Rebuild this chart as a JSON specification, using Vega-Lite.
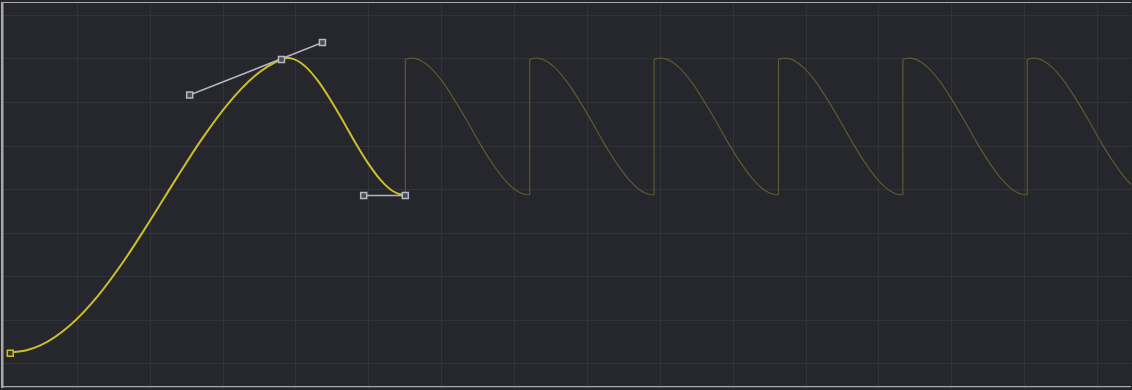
{
  "$schema": "https://vega.github.io/schema/vega-lite/v6.json",
  "width": 1132,
  "height": 390,
  "padding": 0,
  "autosize": {"type": "fit", "contains": "padding"},
  "background": "#26272c",
  "config": {"view": {"stroke": null}},
  "datasets": {
    "main": [
      {"f": 0.82, "v": 2.50}, {"f": 2.97, "v": 2.93}, {"f": 5.06, "v": 4.16}, {"f": 9.07, "v": 8.73},
      {"f": 12.89, "v": 15.48}, {"f": 16.58, "v": 23.82}, {"f": 20.16, "v": 33.07}, {"f": 23.70, "v": 42.57},
      {"f": 27.22, "v": 51.64}, {"f": 30.77, "v": 59.64}, {"f": 34.37, "v": 65.91}, {"f": 36.21, "v": 68.18},
      {"f": 38.08, "v": 69.77}, {"f": 38.93, "v": 70.07}, {"f": 39.77, "v": 69.84}, {"f": 41.45, "v": 68.00},
      {"f": 43.14, "v": 64.71}, {"f": 44.82, "v": 60.43}, {"f": 46.54, "v": 55.57}, {"f": 48.22, "v": 50.61},
      {"f": 49.93, "v": 46.00}, {"f": 51.64, "v": 42.16}, {"f": 53.34, "v": 39.55}, {"f": 54.21, "v": 38.86},
      {"f": 55.07, "v": 38.64}
    ],
    "cycles": [
      {"c": 1, "f": 55.07, "v": 69.77}, {"c": 1, "f": 55.92, "v": 70.07}, {"c": 1, "f": 56.76, "v": 69.84}, {"c": 1, "f": 58.45, "v": 68.00},
      {"c": 1, "f": 60.15, "v": 64.71}, {"c": 1, "f": 61.84, "v": 60.43}, {"c": 1, "f": 63.57, "v": 55.57}, {"c": 1, "f": 65.25, "v": 50.61},
      {"c": 1, "f": 66.97, "v": 46.00}, {"c": 1, "f": 68.69, "v": 42.16}, {"c": 1, "f": 70.40, "v": 39.55}, {"c": 1, "f": 71.27, "v": 38.86},
      {"c": 1, "f": 72.14, "v": 38.64},
      {"c": 2, "f": 72.14, "v": 69.77}, {"c": 2, "f": 72.99, "v": 70.07}, {"c": 2, "f": 73.83, "v": 69.84}, {"c": 2, "f": 75.52, "v": 68.00},
      {"c": 2, "f": 77.22, "v": 64.71}, {"c": 2, "f": 78.91, "v": 60.43}, {"c": 2, "f": 80.64, "v": 55.57}, {"c": 2, "f": 82.32, "v": 50.61},
      {"c": 2, "f": 84.04, "v": 46.00}, {"c": 2, "f": 85.76, "v": 42.16}, {"c": 2, "f": 87.47, "v": 39.55}, {"c": 2, "f": 88.34, "v": 38.86},
      {"c": 2, "f": 89.21, "v": 38.64},
      {"c": 3, "f": 89.21, "v": 69.77}, {"c": 3, "f": 90.06, "v": 70.07}, {"c": 3, "f": 90.90, "v": 69.84}, {"c": 3, "f": 92.59, "v": 68.00},
      {"c": 3, "f": 94.29, "v": 64.71}, {"c": 3, "f": 95.98, "v": 60.43}, {"c": 3, "f": 97.71, "v": 55.57}, {"c": 3, "f": 99.39, "v": 50.61},
      {"c": 3, "f": 101.11, "v": 46.00}, {"c": 3, "f": 102.83, "v": 42.16}, {"c": 3, "f": 104.54, "v": 39.55}, {"c": 3, "f": 105.41, "v": 38.86},
      {"c": 3, "f": 106.28, "v": 38.64},
      {"c": 4, "f": 106.28, "v": 69.77}, {"c": 4, "f": 107.13, "v": 70.07}, {"c": 4, "f": 107.97, "v": 69.84}, {"c": 4, "f": 109.66, "v": 68.00},
      {"c": 4, "f": 111.36, "v": 64.71}, {"c": 4, "f": 113.05, "v": 60.43}, {"c": 4, "f": 114.78, "v": 55.57}, {"c": 4, "f": 116.46, "v": 50.61},
      {"c": 4, "f": 118.18, "v": 46.00}, {"c": 4, "f": 119.90, "v": 42.16}, {"c": 4, "f": 121.61, "v": 39.55}, {"c": 4, "f": 122.48, "v": 38.86},
      {"c": 4, "f": 123.35, "v": 38.64},
      {"c": 5, "f": 123.35, "v": 69.77}, {"c": 5, "f": 124.20, "v": 70.07}, {"c": 5, "f": 125.04, "v": 69.84}, {"c": 5, "f": 126.73, "v": 68.00},
      {"c": 5, "f": 128.43, "v": 64.71}, {"c": 5, "f": 130.12, "v": 60.43}, {"c": 5, "f": 131.85, "v": 55.57}, {"c": 5, "f": 133.53, "v": 50.61},
      {"c": 5, "f": 135.25, "v": 46.00}, {"c": 5, "f": 136.97, "v": 42.16}, {"c": 5, "f": 138.68, "v": 39.55}, {"c": 5, "f": 139.55, "v": 38.86},
      {"c": 5, "f": 140.42, "v": 38.64},
      {"c": 6, "f": 140.42, "v": 69.77}, {"c": 6, "f": 141.27, "v": 70.07}, {"c": 6, "f": 142.11, "v": 69.84}, {"c": 6, "f": 143.80, "v": 68.00},
      {"c": 6, "f": 145.50, "v": 64.71}, {"c": 6, "f": 147.19, "v": 60.43}, {"c": 6, "f": 148.92, "v": 55.57}, {"c": 6, "f": 150.60, "v": 50.61},
      {"c": 6, "f": 152.32, "v": 46.00}, {"c": 6, "f": 154.04, "v": 42.16}, {"c": 6, "f": 155.75, "v": 39.55}, {"c": 6, "f": 156.62, "v": 38.86},
      {"c": 6, "f": 157.49, "v": 38.64}
    ],
    "jumps": [
      {"f": 55.07, "v": 38.64, "hi": 69.77}, {"f": 72.14, "v": 38.64, "hi": 69.77}, {"f": 89.21, "v": 38.64, "hi": 69.77},
      {"f": 106.28, "v": 38.64, "hi": 69.77}, {"f": 123.35, "v": 38.64, "hi": 69.77}, {"f": 140.42, "v": 38.64, "hi": 69.77}
    ],
    "handles": [
      {"h": "a", "f": 25.48, "v": 61.59}, {"h": "a", "f": 43.70, "v": 73.64},
      {"h": "b", "f": 49.36, "v": 38.52}, {"h": "b", "f": 55.07, "v": 38.52}
    ],
    "hpts": [
      {"f": 25.48, "v": 61.59}, {"f": 43.70, "v": 73.64}, {"f": 49.36, "v": 38.52},
      {"f": 38.08, "v": 69.77}, {"f": 55.07, "v": 38.52}
    ],
    "spt": [{"f": 0.86, "v": 2.27}],
    "vborder": [{"f": -0.24, "v": -5.682, "hi": 82.955}],
    "hborder": [
      {"f": -0.411, "f2": 154.658, "v": 82.84},
      {"f": -0.411, "f2": 154.658, "v": -5.36}
    ]
  },
  "encoding": {
    "x": {
      "field": "f", "type": "quantitative",
      "scale": {"domain": [-0.411, 154.658], "nice": false, "zero": false},
      "axis": {
        "values": [10, 20, 30, 40, 50, 60, 70, 80, 90, 100, 110, 120, 130, 140, 150],
        "grid": true, "labels": false, "ticks": false, "domain": false, "title": null,
        "gridColor": "#323338", "gridWidth": 1, "minExtent": 0, "maxExtent": 0
      }
    },
    "y": {
      "field": "v", "type": "quantitative",
      "scale": {"domain": [-5.682, 82.955], "nice": false, "zero": false},
      "axis": {
        "values": [0, 10, 20, 30, 40, 50, 60, 70, 80],
        "grid": true, "labels": false, "ticks": false, "domain": false, "title": null,
        "gridColor": "#323338", "gridWidth": 1, "minExtent": 0, "maxExtent": 0
      }
    }
  },
  "layer": [
    {
      "data": {"name": "cycles"},
      "mark": {"type": "line", "interpolate": "monotone", "color": "#5c5a30", "strokeWidth": 1.2, "clip": true},
      "encoding": {"detail": {"field": "c", "type": "nominal"}}
    },
    {
      "data": {"name": "jumps"},
      "mark": {"type": "rule", "color": "#5c5a30", "strokeWidth": 1.2, "clip": true},
      "encoding": {"y2": {"field": "hi"}}
    },
    {
      "data": {"name": "main"},
      "mark": {"type": "line", "interpolate": "monotone", "color": "#cbbd2b", "strokeWidth": 2},
      "encoding": {}
    },
    {
      "data": {"name": "handles"},
      "mark": {"type": "line", "color": "#b3b6bf", "strokeWidth": 1.5},
      "encoding": {"detail": {"field": "h", "type": "nominal"}}
    },
    {
      "data": {"name": "hpts"},
      "mark": {"type": "square", "size": 36, "filled": true, "fill": "#4a4c54", "stroke": "#b6b9c2", "strokeWidth": 1.5, "opacity": 1}
    },
    {
      "data": {"name": "spt"},
      "mark": {"type": "square", "size": 36, "filled": true, "fill": "#3e3b1c", "stroke": "#cbbd2b", "strokeWidth": 1.5, "opacity": 1}
    },
    {
      "data": {"name": "vborder"},
      "mark": {"type": "rule", "color": "#a9a9ab", "strokeWidth": 2.5},
      "encoding": {"y2": {"field": "hi"}}
    },
    {
      "data": {"name": "hborder"},
      "mark": {"type": "rule", "color": "#a9a9ab", "strokeWidth": 1.2},
      "encoding": {"x2": {"field": "f2"}}
    }
  ]
}
